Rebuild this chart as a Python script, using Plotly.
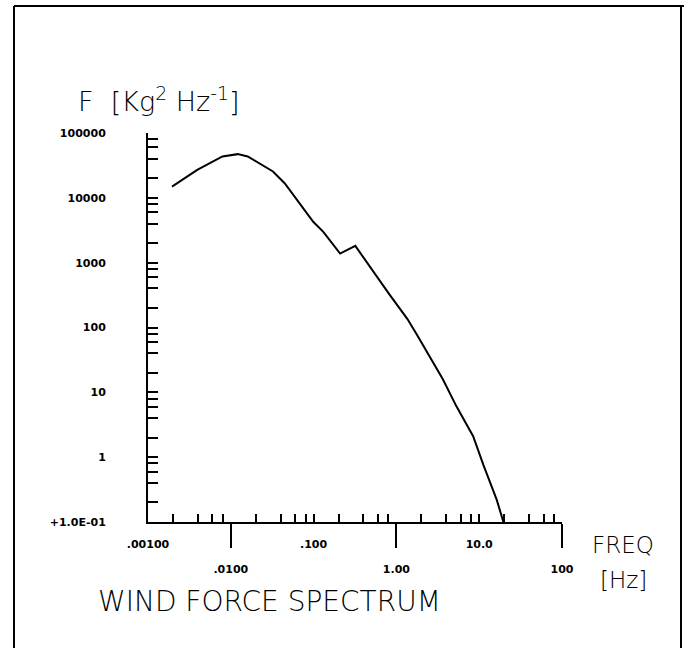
import plotly.graph_objects as go

# ---DATA---
freq_hz = [0.00195, 0.00393, 0.00793, 0.0121, 0.016, 0.0255, 0.0323, 0.0447,
           0.0592, 0.099, 0.131, 0.209, 0.319, 0.509, 0.815, 1.36, 1.80,
           3.64, 5.29, 8.45, 11.2, 16.3, 19.6]
force_spec = [14900, 27000, 43500, 47200, 43500, 30500, 25500, 16800,
              10400, 4280, 2990, 1380, 1815, 760, 330, 135, 74.6,
              15.9, 6.13, 2.10, 0.766, 0.219, 0.1]

x_even_vals = [0.01, 1, 100]
x_even_text = ['.0100', '1.00', '100']
x_odd_vals = [0.001, 0.1, 10]
x_odd_text = ['.00100', '.100', '10.0']
y_vals = [0.1, 1, 10, 100, 1000, 10000, 100000]
y_text = ['+1.0E-01', '1', '10', '100', '1000', '10000', '100000']

minor_mult = [2, 4, 6, 8]
x_minor = [m * 10 ** k for k in range(-3, 2) for m in minor_mult]
y_minor = [m * 10 ** k for k in range(-1, 5) for m in minor_mult]

#---GEOMETRY---
W, H = 684, 648
ML, MR, MT, MB = 148, 122, 133, 126
PW, PH = W - ML - MR, H - MT - MB


def px_x(px):
    return (px - ML) / PW


def px_y(py):
    return (H - MB - py) / PH


tick_font = dict(family='DejaVu Sans', size=11, color='black', weight='bold')
text_font = dict(family='DejaVu Sans', size=24, color='black', weight=300)

#---PLOT---
fig = go.Figure()
fig.add_trace(go.Scatter(
    x=freq_hz, y=force_spec, mode='lines',
    line=dict(color='black', width=2), showlegend=False, cliponaxis=True))
# invisible copy so the second (label) axis gets drawn
fig.add_trace(go.Scatter(
    x=freq_hz, y=force_spec, mode='lines', xaxis='x2',
    line=dict(color='rgba(0,0,0,0)', width=0), showlegend=False,
    hoverinfo='skip'))

fig.update_layout(
    width=W, height=H,
    margin=dict(l=ML, r=MR, t=MT, b=MB, pad=0),
    plot_bgcolor='white', paper_bgcolor='white',
    showlegend=False)

fig.update_xaxes(
    type='log', range=[-3, 2], showgrid=False, zeroline=False,
    showline=True, linecolor='black', linewidth=2,
    tickmode='array', tickvals=x_even_vals, ticktext=x_even_text,
    ticks='outside', ticklen=24, tickwidth=2, tickcolor='black',
    tickfont=tick_font, ticklabelstandoff=12,
    minor=dict(tickmode='array', tickvals=x_minor, ticks='inside',
               ticklen=8, tickwidth=2, tickcolor='black'))

fig.update_layout(xaxis2=dict(
    type='log', range=[-3, 2], overlaying='x', anchor='y', side='bottom',
    showgrid=False, zeroline=False, showline=False,
    tickmode='array', tickvals=x_odd_vals, ticktext=x_odd_text,
    ticks='inside', ticklen=8, tickwidth=2, tickcolor='black',
    tickfont=tick_font, ticklabelstandoff=14))

fig.update_yaxes(
    type='log', range=[-1, 5], showgrid=False, zeroline=False,
    showline=True, linecolor='black', linewidth=2,
    tickmode='array', tickvals=y_vals, ticktext=y_text,
    ticks='inside', ticklen=10, tickwidth=2, tickcolor='black',
    tickfont=tick_font, ticklabelstandoff=38,
    minor=dict(tickmode='array', tickvals=y_minor, ticks='inside',
               ticklen=10, tickwidth=2, tickcolor='black'))

#---TEXT---
fig.add_annotation(xref='paper', yref='paper', x=px_x(76), y=px_y(100),
                   xanchor='left', yanchor='middle', showarrow=False,
                   text='F  [Kg<sup>2</sup> Hz<sup>-1</sup>]',
                   font=dict(text_font, size=27))
fig.add_annotation(xref='paper', yref='paper', x=px_x(590), y=px_y(545),
                   xanchor='left', yanchor='middle', showarrow=False,
                   text='FREQ', font=dict(text_font, size=23))
fig.add_annotation(xref='paper', yref='paper', x=px_x(598), y=px_y(580),
                   xanchor='left', yanchor='middle', showarrow=False,
                   text='[Hz]', font=dict(text_font, size=23))
fig.add_annotation(xref='paper', yref='paper', x=px_x(96), y=px_y(601),
                   xanchor='left', yanchor='middle', showarrow=False,
                   text='WIND FORCE SPECTRUM', font=dict(text_font, size=28))

#---FRAME---
fig.add_shape(type='line', xref='paper', yref='paper',
              x0=px_x(14), x1=px_x(14), y0=px_y(6), y1=px_y(650),
              line=dict(color='black', width=2))
fig.add_shape(type='line', xref='paper', yref='paper',
              x0=px_x(14), x1=px_x(684), y0=px_y(6), y1=px_y(6),
              line=dict(color='black', width=2))
fig.add_shape(type='line', xref='paper', yref='paper',
              x0=px_x(681), x1=px_x(681), y0=px_y(6), y1=px_y(650),
              line=dict(color='black', width=2))

# page body has an 8px default margin; drop it so the figure sits at 0,0
fig.write_html("out.html", config={'displayModeBar': False},
               post_script="document.body.style.margin='0';")
